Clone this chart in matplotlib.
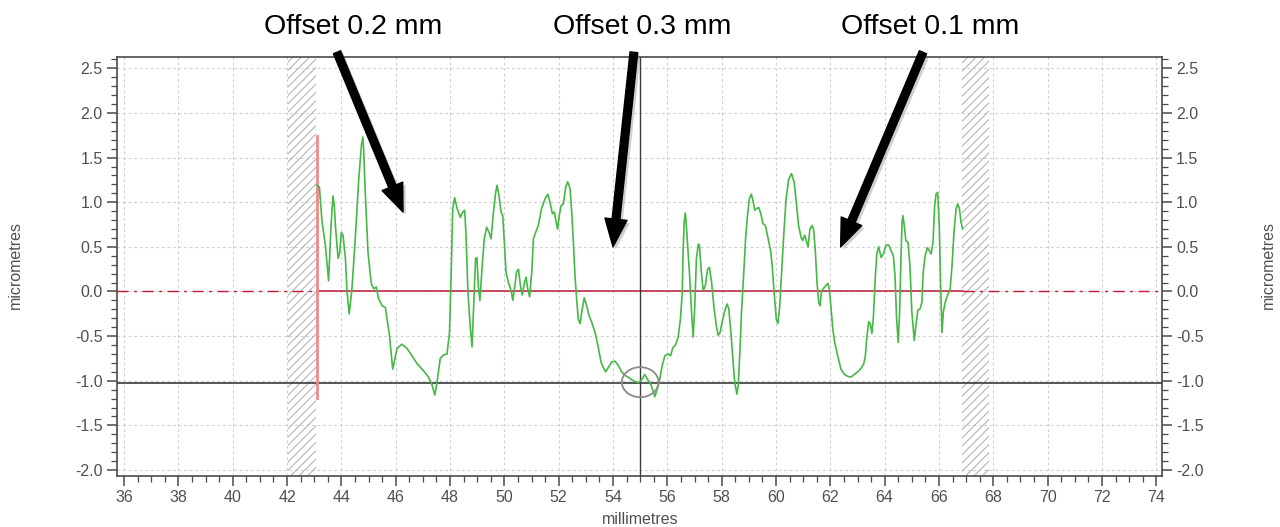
import matplotlib
matplotlib.use("Agg")
import matplotlib.pyplot as plt
from matplotlib.ticker import MultipleLocator, FormatStrFormatter
from matplotlib.patches import Ellipse
import matplotlib.patheffects as pe

plt.rcParams['font.family'] = ['Liberation Sans', 'DejaVu Sans']
plt.rcParams['axes.unicode_minus'] = False
plt.rcParams['hatch.linewidth'] = 0.7

# Measured profile: position along the part (mm) and form deviation (µm)
position_mm = [
    43.10, 43.19, 43.29, 43.41, 43.53, 43.62, 43.69, 43.74, 43.78, 43.88,
    43.94, 44.00, 44.06, 44.15, 44.21, 44.29, 44.39, 44.52, 44.64, 44.74,
    44.79, 44.82, 44.88, 44.98, 45.10, 45.19, 45.28, 45.37, 45.50, 45.62,
    45.77, 45.89, 46.05, 46.23, 46.42, 46.60, 46.79, 47.03, 47.21, 47.34,
    47.44, 47.52, 47.64, 47.77, 47.89, 47.98, 48.05, 48.10, 48.17, 48.26,
    48.38, 48.47, 48.54, 48.59, 48.66, 48.74, 48.81, 48.87, 48.94, 48.99,
    49.04, 49.10, 49.17, 49.26, 49.35, 49.44, 49.51, 49.60, 49.68, 49.73,
    49.80, 49.88, 49.94, 50.00, 50.06, 50.15, 50.25, 50.31, 50.39, 50.45,
    50.52, 50.59, 50.66, 50.74, 50.80, 50.86, 50.93, 51.01, 51.07, 51.15,
    51.25, 51.37, 51.50, 51.60, 51.68, 51.77, 51.84, 51.93, 51.96, 52.02,
    52.09, 52.17, 52.26, 52.33, 52.42, 52.48, 52.54, 52.60, 52.66, 52.72,
    52.79, 52.85, 52.94, 53.03, 53.12, 53.21, 53.34, 53.44, 53.56, 53.64,
    53.73, 53.83, 53.95, 54.07, 54.20, 54.32, 54.44, 54.56, 54.69, 54.81,
    54.95, 55.07, 55.17, 55.26, 55.38, 55.47, 55.54, 55.63, 55.71, 55.81,
    55.91, 56.03, 56.12, 56.20, 56.30, 56.40, 56.48, 56.55, 56.58, 56.62,
    56.66, 56.69, 56.74, 56.82, 56.89, 56.95, 57.01, 57.07, 57.14, 57.18,
    57.25, 57.32, 57.40, 57.48, 57.55, 57.63, 57.71, 57.80, 57.87, 57.94,
    58.02, 58.12, 58.20, 58.26, 58.34, 58.41, 58.48, 58.56, 58.61, 58.67,
    58.73, 58.80, 58.88, 58.95, 59.02, 59.09, 59.15, 59.22, 59.29, 59.37,
    59.44, 59.52, 59.61, 59.71, 59.80, 59.86, 59.93, 60.01, 60.07, 60.13,
    60.20, 60.29, 60.37, 60.47, 60.57, 60.67, 60.76, 60.83, 60.92, 60.98,
    61.06, 61.13, 61.18, 61.25, 61.33, 61.39, 61.45, 61.51, 61.57, 61.62,
    61.67, 61.74, 61.84, 61.91, 61.96, 62.02, 62.09, 62.16, 62.27, 62.39,
    62.52, 62.64, 62.76, 62.88, 63.01, 63.13, 63.23, 63.29, 63.34, 63.41,
    63.47, 63.53, 63.58, 63.66, 63.71, 63.78, 63.87, 63.95, 64.05, 64.15,
    64.23, 64.32, 64.38, 64.44, 64.50, 64.55, 64.60, 64.64, 64.67, 64.72,
    64.78, 64.86, 64.93, 65.00, 65.09, 65.15, 65.22, 65.31, 65.37, 65.42,
    65.49, 65.57, 65.64, 65.71, 65.78, 65.84, 65.89, 65.95, 66.01, 66.06,
    66.11, 66.16, 66.23, 66.32, 66.41, 66.48, 66.55, 66.63, 66.69, 66.75,
    66.81, 66.87,
]
deviation_um = [
    1.19, 1.17, 0.78, 0.52, 0.12, 0.74, 1.07, 0.96, 0.74, 0.37,
    0.44, 0.66, 0.63, 0.37, -0.01, -0.25, 0.03, 0.63, 1.26, 1.64,
    1.73, 1.60, 1.11, 0.44, 0.09, 0.03, 0.05, -0.08, -0.16, -0.18,
    -0.49, -0.87, -0.64, -0.59, -0.64, -0.72, -0.81, -0.89, -0.96, -1.05,
    -1.16, -1.02, -0.75, -0.71, -0.70, -0.46, 0.29, 0.93, 1.05, 0.93,
    0.83, 0.89, 0.91, 0.63, -0.01, -0.38, -0.62, -0.15, 0.37, 0.38,
    0.07, -0.10, 0.22, 0.59, 0.72, 0.66, 0.59, 0.89, 1.11, 1.19,
    1.08, 0.89, 0.85, 0.55, 0.22, 0.10, 0.01, -0.10, 0.07, 0.22,
    0.25, 0.07, -0.04, 0.10, 0.16, 0.03, -0.06, 0.22, 0.59, 0.66,
    0.74, 0.93, 1.04, 1.09, 1.00, 0.87, 0.89, 0.74, 0.70, 0.85,
    0.96, 0.98, 1.17, 1.23, 1.15, 0.89, 0.55, 0.18, -0.08, -0.31,
    -0.36, -0.23, -0.07, -0.16, -0.27, -0.34, -0.46, -0.60, -0.79, -0.85,
    -0.90, -0.85, -0.79, -0.78, -0.83, -0.90, -0.94, -0.96, -0.99, -1.01,
    -1.02, -0.98, -0.93, -0.98, -1.03, -1.11, -1.18, -1.09, -1.00, -0.83,
    -0.72, -0.70, -0.72, -0.63, -0.60, -0.51, -0.31, -0.01, 0.44, 0.78,
    0.88, 0.78, 0.55, 0.18, -0.23, -0.51, -0.16, 0.37, 0.53, 0.52,
    0.22, 0.01, 0.07, 0.25, 0.27, 0.10, -0.16, -0.38, -0.49, -0.46,
    -0.34, -0.21, -0.14, -0.19, -0.46, -0.75, -1.02, -1.15, -1.05, -0.68,
    -0.23, 0.14, 0.59, 0.85, 1.04, 1.09, 1.02, 0.91, 0.93, 0.94,
    0.87, 0.76, 0.74, 0.59, 0.46, 0.29, -0.01, -0.31, -0.36, -0.19,
    0.18, 0.66, 1.04, 1.26, 1.32, 1.22, 0.96, 0.74, 0.61, 0.57,
    0.63, 0.55, 0.50, 0.70, 0.74, 0.68, 0.44, 0.10, -0.12, -0.16,
    -0.01, 0.03, 0.07, 0.09, 0.03, -0.16, -0.42, -0.57, -0.72, -0.87,
    -0.93, -0.95, -0.96, -0.93, -0.90, -0.86, -0.81, -0.72, -0.53, -0.34,
    -0.36, -0.47, -0.31, 0.18, 0.42, 0.50, 0.38, 0.42, 0.52, 0.52,
    0.46, 0.40, 0.18, -0.31, -0.57, -0.23, 0.37, 0.78, 0.85, 0.74,
    0.57, 0.55, 0.29, -0.23, -0.55, -0.38, -0.21, -0.19, -0.12, 0.22,
    0.40, 0.49, 0.46, 0.42, 0.55, 0.96, 1.09, 1.11, 0.74, 0.07,
    -0.46, -0.23, -0.12, -0.04, 0.03, 0.29, 0.66, 0.93, 0.98, 0.93,
    0.78, 0.70,
]

# Evaluation range and excluded end zones (mm)
eval_start, eval_end = 43.1, 66.87
excluded_zones = [(42.05, 43.06), (66.85, 67.83)]
cursor_x = 55.0
cursor_y = -1.03
start_marker_span = (-1.19, 1.74)

annotations = ["Offset 0.2 mm", "Offset 0.3 mm", "Offset 0.1 mm"]
label_x_px = [353, 642, 930]
arrow_tails = [(43.84, 2.68), (54.77, 2.68), (65.41, 2.68)]
arrow_tips = [(46.27, 0.89), (54.00, 0.50), (62.38, 0.50)]

W, H = 1280, 527
fig = plt.figure(figsize=(W / 100, H / 100), dpi=100)
ax = fig.add_axes([116.7 / W, 1 - 476 / H, (1162.3 - 116.7) / W, (476 - 56.7) / H])

xlim = (35.73, 74.22)
ylim = (-2.067, 2.63)
ax.set_xlim(*xlim)
ax.set_ylim(*ylim)

# Grid
grid_kw = dict(color='#cfcfcf', lw=0.8, ls=(0, (2.5, 2.5)), zorder=0)
for gx in range(36, 75, 2):
    ax.axvline(gx, **grid_kw)
for gy in [-2.0, -1.5, -1.0, -0.5, 0.0, 0.5, 1.0, 1.5, 2.0, 2.5]:
    ax.axhline(gy, **grid_kw)

# Excluded zones
for a, b in excluded_zones:
    ax.axvspan(a, b, facecolor='none', edgecolor='#ababab', hatch='////',
               linewidth=0, zorder=1)

# Zero reference line: solid inside evaluation range, dash-dot outside
ref_color = '#c01838'
ax.plot([xlim[0], eval_start], [0, 0], color=ref_color, lw=1.0,
        ls=(0, (8, 4, 2, 4)), zorder=2)
ax.plot([eval_end, xlim[1]], [0, 0], color=ref_color, lw=1.0,
        ls=(0, (8, 4, 2, 4)), zorder=2)
ax.plot([eval_start, eval_end], [0, 0], color=ref_color, lw=1.1, zorder=2)

# Cursor lines
ax.axhline(cursor_y, color='#3a3a3a', lw=1.2, zorder=3)
ax.axvline(cursor_x, color='#3a3a3a', lw=1.0, zorder=3)

# Start marker
ax.plot([eval_start, eval_start], start_marker_span, color='#f08a8a', lw=2.0, zorder=3)

# Profile
ax.plot(position_mm, deviation_um, color='#45b845', lw=1.2, zorder=4)

# Cursor ring
ax.add_patch(Ellipse((cursor_x, -1.016), 1.35, 0.336, fill=False,
                     edgecolor='#8a8a8a', lw=1.3, zorder=5))

# Axes styling
for side in ['left', 'right', 'top', 'bottom']:
    ax.spines[side].set_color('#4a4a4a')
    ax.spines[side].set_linewidth(1.2)

ax.xaxis.set_major_locator(MultipleLocator(2))
ax.xaxis.set_minor_locator(MultipleLocator(0.5))
ax.yaxis.set_major_locator(MultipleLocator(0.5))
ax.yaxis.set_minor_locator(MultipleLocator(0.1))
ax.yaxis.set_major_formatter(FormatStrFormatter('%.1f'))
ax.tick_params(axis='both', which='both', direction='out', colors='#4a4a4a',
               labelcolor='#505050', labelsize=11.5)
ax.tick_params(axis='y', which='both', left=True, right=True,
               labelleft=True, labelright=True)
ax.tick_params(axis='x', which='both', top=False, bottom=True)
ax.tick_params(which='major', length=7, width=1.1, pad=3)
ax.tick_params(which='minor', length=4, width=0.9)

# Axis titles
fig.text(15 / W, 1 - 265 / H, 'micrometres', rotation=90, ha='center',
         va='center', fontsize=11.5, color='#505050')
fig.text(1268 / W, 1 - 265 / H, 'micrometres', rotation=90, ha='center',
         va='center', fontsize=11.5, color='#505050')
fig.text(640 / W, 1 - 519 / H, 'millimetres', ha='center', va='center',
         fontsize=11.5, color='#505050')

# Offset labels and arrows
for text, px in zip(annotations, label_x_px):
    fig.text(px / W, 1 - 27 / H, text, ha='center', va='center',
             fontsize=20.5, color='black')

for tail, tip in zip(arrow_tails, arrow_tips):
    ann = ax.annotate('', xy=tip, xytext=tail, annotation_clip=False,
                      arrowprops=dict(arrowstyle='simple,head_width=0.8,head_length=1.0,tail_width=0.28',
                                      color='black', mutation_scale=20,
                                      shrinkA=0, shrinkB=0))
    ann.arrow_patch.set_path_effects([
        pe.SimplePatchShadow(offset=(2, -2), shadow_rgbFace='#777777', alpha=0.35),
        pe.Normal()])
    ann.set_zorder(10)

fig.savefig('out.png', dpi=100)
